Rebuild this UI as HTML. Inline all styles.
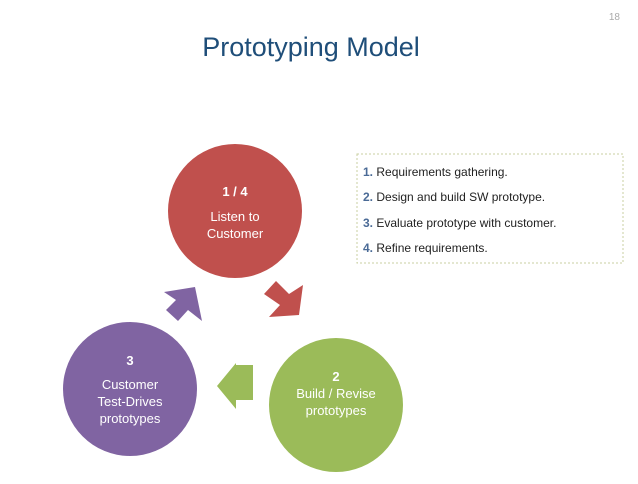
<!DOCTYPE html>
<html><head><style>
body{margin:0;width:638px;height:479px;background:#fff;overflow:hidden;font-family:"Liberation Sans",sans-serif}
</style></head><body>
<svg width="638" height="479" xmlns="http://www.w3.org/2000/svg" font-family="Liberation Sans, sans-serif">
<text x="620" y="20" font-size="10" fill="#aaa" text-anchor="end">18</text>
<text x="311" y="56" font-size="27" fill="#1f4e79" text-anchor="middle">Prototyping Model</text>
<rect x="357" y="154" width="266" height="109" fill="none" stroke="#c9cfa0" stroke-dasharray="2,2"/>
<g font-size="12" fill="#222">
<text x="363" y="176"><tspan fill="#4a6a96" font-weight="bold">1.</tspan> Requirements gathering.</text>
<text x="363" y="201"><tspan fill="#4a6a96" font-weight="bold">2.</tspan> Design and build SW prototype.</text>
<text x="363" y="227"><tspan fill="#4a6a96" font-weight="bold">3.</tspan> Evaluate prototype with customer.</text>
<text x="363" y="252"><tspan fill="#4a6a96" font-weight="bold">4.</tspan> Refine requirements.</text>
</g>
<circle cx="235" cy="211" r="67" fill="#c0504d"/>
<circle cx="130" cy="389" r="67" fill="#8064a2"/>
<circle cx="336" cy="405" r="67" fill="#9bbb59"/>
<polygon points="264,294 276,281 289,294 303,285 299,315 269,317 280,305" fill="#c0504d"/>
<polygon points="166,310 178,321 188,310 202,321 195,287 164,292 176,300" fill="#8064a2"/>
<polygon points="253,368 253,403 236,403 236,412 217,389 236,366 236,368" fill="#9bbb59" transform="translate(0,-3)"/>
<g fill="#fff" text-anchor="middle" font-size="13">
<text x="235" y="196" font-weight="bold">1 / 4</text>
<text x="235" y="221">Listen to</text>
<text x="235" y="238">Customer</text>
<text x="130" y="365" font-weight="bold">3</text>
<text x="130" y="389">Customer</text>
<text x="130" y="406">Test-Drives</text>
<text x="130" y="423">prototypes</text>
<text x="336" y="381" font-weight="bold">2</text>
<text x="336" y="398">Build / Revise</text>
<text x="336" y="415">prototypes</text>
</g>
</svg>
</body></html>
